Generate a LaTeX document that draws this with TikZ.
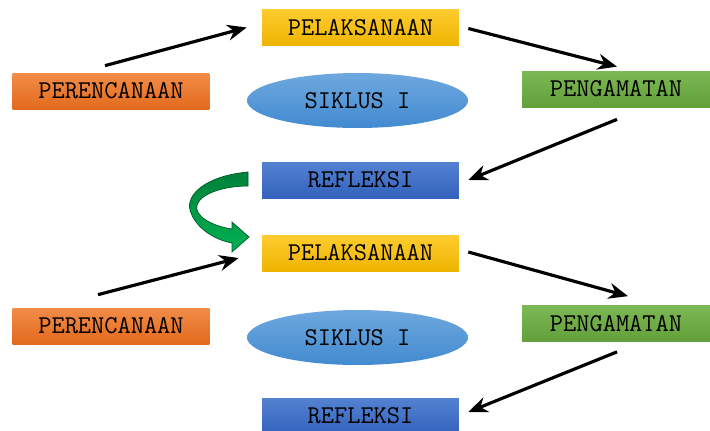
\documentclass[tikz,border=0pt]{standalone}
\usepackage{fontspec}
\usepackage{tikz}
\usetikzlibrary{shapes,arrows.meta,positioning}

\definecolor{orangeTop}{RGB}{242,140,72}
\definecolor{orangeBot}{RGB}{226,106,28}
\definecolor{yellowTop}{RGB}{255,204,48}
\definecolor{yellowBot}{RGB}{238,180,0}
\definecolor{greenTop}{RGB}{124,184,84}
\definecolor{greenBot}{RGB}{98,160,58}
\definecolor{blueTop}{RGB}{84,130,210}
\definecolor{blueBot}{RGB}{50,98,188}
\definecolor{ovalTop}{RGB}{110,168,222}
\definecolor{ovalBot}{RGB}{66,138,208}
\definecolor{curlTop}{RGB}{0,128,58}
\definecolor{curlBot}{RGB}{0,178,82}

\begin{document}
\begin{tikzpicture}[
    x=0.02cm, y=-0.02cm,
    font=\ttfamily\fontsize{14.6}{14.6}\selectfont,
    stage/.style={rectangle, inner sep=0pt, minimum width=3.94cm, minimum height=0.72cm, text=black},
    plan/.style={stage, top color=orangeTop, bottom color=orangeBot},
    act/.style={stage, top color=yellowTop, bottom color=yellowBot},
    observe/.style={stage, minimum width=3.76cm, top color=greenTop, bottom color=greenBot},
    reflect/.style={stage, top color=blueTop, bottom color=blueBot},
    oval/.style={ellipse, inner sep=0pt, minimum width=4.42cm, minimum height=1.1cm, top color=ovalTop, bottom color=ovalBot},
    arrow/.style={line width=1.8pt, -{Stealth[length=11pt,width=9pt]}},
    curl/.style={top color=curlTop, bottom color=curlBot, draw=curlTop!70!black, line width=0.4pt}
]
\useasboundingbox (0,0) rectangle (710,430);

% Siklus pertama
\node[plan] (perencanaan) at (111,91) {PERENCANAAN};
\node[act] (pelaksanaan) at (360.5,27.5) {PELAKSANAAN};
\node[oval] (siklus) at (357.5,100.5) {SIKLUS I};
\node[observe] (pengamatan) at (616,89) {PENGAMATAN};
\node[reflect] (refleksi) at (360.5,180) {REFLEKSI};

% Siklus kedua
\node[act] (pelaksanaan2) at (360.5,253) {PELAKSANAAN};
\node[plan] (perencanaan2) at (111,326) {PERENCANAAN};
\node[oval] (siklus2) at (357.5,337.5) {SIKLUS I};
\node[observe] (pengamatan2) at (616,323.5) {PENGAMATAN};
\node[reflect] (refleksi2) at (360.5,416) {REFLEKSI};

% Arrows
\draw[arrow] ([shift={(-6,-7)}]perencanaan.north) -- ([shift={(-15,0)}]pelaksanaan.west);
\draw[arrow] ([shift={(9,1)}]pelaksanaan.east) -- ([shift={(1,-4)}]pengamatan.north);
\draw[arrow] ([shift={(1,12)}]pengamatan.south) -- ([shift={(9,0)}]refleksi.east);
\draw[arrow] ([shift={(-13,-13)}]perencanaan2.north) -- ([shift={(-23,5)}]pelaksanaan2.west);
\draw[arrow] ([shift={(9,-1)}]pelaksanaan2.east) -- ([shift={(12,-9)}]pengamatan2.north);
\draw[arrow] ([shift={(1,10)}]pengamatan2.south) -- ([shift={(9,-4)}]refleksi2.east);

% Panah lengkung ke siklus berikutnya
\draw[curl] (248,172) .. controls (205,176) and (186,195) .. (190,210)
    .. controls (195,228) and (215,240) .. (232,243) -- (232,252) -- (249,237)
    -- (232,222) -- (232,229) .. controls (212,226) and (194,216) .. (197,205)
    .. controls (201,193) and (225,186) .. (248,186) -- cycle;
\end{tikzpicture}
\end{document}
